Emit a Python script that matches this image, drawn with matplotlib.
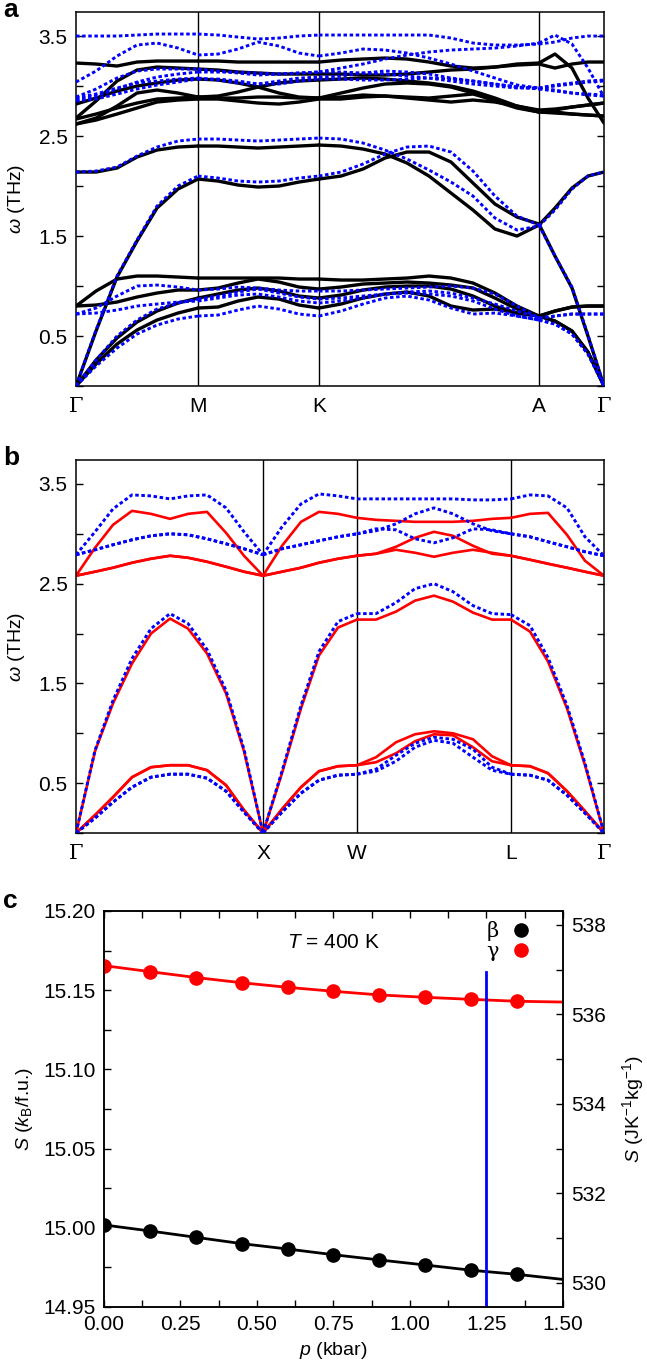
import numpy as np
import matplotlib.pyplot as plt
from matplotlib.ticker import MultipleLocator

plt.rcParams['font.family'] = ['Liberation Sans', 'DejaVu Sans']
plt.rcParams['mathtext.fontset'] = 'custom'
plt.rcParams['mathtext.rm'] = 'Liberation Sans'
plt.rcParams['mathtext.it'] = 'Liberation Sans:italic'
plt.rcParams['mathtext.bf'] = 'Liberation Sans:bold'
plt.rcParams['axes.linewidth'] = 1.1

# ---------------- panel a : path G-M-K-A-G (path length, arbitrary units)
sym_a = [0, 122, 243, 463, 528]
lab_a = ['Γ', 'M', 'K', 'A', 'Γ']
k_a = [0, 20, 41, 61, 81, 102, 122, 142, 162, 182, 203, 223, 243,
       265, 287, 309, 331, 353, 375, 397, 419, 441, 463, 479, 496, 512, 528]

# black bands (THz)
a_blk_ta1 = [0, 0.22, 0.42, 0.56, 0.66, 0.73, 0.78, 0.79, 0.85, 0.89, 0.87, 0.81, 0.78,
             0.82, 0.88, 0.92, 0.94, 0.90, 0.80, 0.76, 0.77, 0.73, 0.70, 0.65, 0.55, 0.34, 0]
a_blk_ta2 = [0, 0.26, 0.48, 0.64, 0.75, 0.83, 0.88, 0.92, 0.96, 0.98, 0.95, 0.90, 0.88,
             0.91, 0.96, 0.99, 1.00, 1.00, 0.97, 0.90, 0.80, 0.73, 0.70, 0.65, 0.55, 0.34, 0]
a_blk_o2 = [0.80, 0.81, 0.84, 0.89, 0.93, 0.96, 0.96, 0.98, 1.03, 1.07, 1.04, 0.99, 0.97,
            0.99, 1.02, 1.03, 1.04, 1.03, 1.01, 0.98, 0.88, 0.77, 0.70, 0.75, 0.79, 0.80, 0.80]
a_blk_o1 = [0.80, 0.95, 1.07, 1.10, 1.10, 1.09, 1.08, 1.08, 1.08, 1.08, 1.08, 1.07, 1.07,
            1.06, 1.06, 1.07, 1.08, 1.10, 1.08, 1.03, 0.93, 0.80, 0.70, 0.75, 0.79, 0.80, 0.80]
a_blk_la = [0, 0.55, 1.09, 1.45, 1.78, 1.97, 2.07, 2.05, 2.01, 1.99, 2.00, 2.04, 2.07,
            2.10, 2.17, 2.28, 2.34, 2.34, 2.24, 2.03, 1.82, 1.69, 1.62, 1.30, 0.98, 0.50, 0]
a_blk_up = [2.14, 2.14, 2.18, 2.29, 2.36, 2.39, 2.40, 2.40, 2.39, 2.38, 2.39, 2.40, 2.41,
            2.40, 2.37, 2.32, 2.23, 2.10, 1.93, 1.76, 1.57, 1.50, 1.61, 1.78, 1.98, 2.10, 2.14]
a_blk_h1 = [3.23, 3.22, 3.20, 3.24, 3.25, 3.25, 3.25, 3.25, 3.24, 3.24, 3.24, 3.24, 3.24,
            3.26, 3.27, 3.28, 3.27, 3.24, 3.20, 3.18, 3.19, 3.22, 3.23, 3.32, 3.18, 2.88, 2.63]
a_blk_h2 = [2.68, 2.85, 3.05, 3.16, 3.19, 3.18, 3.17, 3.16, 3.14, 3.13, 3.12, 3.12, 3.12,
            3.12, 3.11, 3.11, 3.12, 3.14, 3.16, 3.17, 3.19, 3.21, 3.22, 3.18, 3.22, 3.24, 3.24]
a_blk_h3 = [2.82, 2.88, 2.95, 3.00, 3.03, 3.06, 3.07, 3.06, 3.03, 2.99, 2.93, 2.89, 2.88,
            2.89, 2.91, 2.90, 2.88, 2.86, 2.84, 2.86, 2.84, 2.80, 2.76, 2.77, 2.79, 2.81, 2.83]
a_blk_h4 = [2.67, 2.72, 2.78, 2.83, 2.87, 2.88, 2.89, 2.90, 2.94, 2.99, 3.03, 3.05, 3.06,
            3.07, 3.08, 3.07, 3.05, 3.03, 3.00, 2.95, 2.88, 2.80, 2.75, 2.74, 2.72, 2.71, 2.70]
a_blk_h5 = [2.62, 2.66, 2.72, 2.78, 2.84, 2.86, 2.87, 2.87, 2.85, 2.83, 2.82, 2.84, 2.87,
            2.87, 2.89, 2.90, 2.89, 2.88, 2.90, 2.92, 2.86, 2.79, 2.74, 2.73, 2.72, 2.71, 2.70]
a_blk_h6 = [2.62, 2.68, 2.80, 2.93, 2.96, 2.93, 2.89, 2.88, 2.88, 2.89, 2.89, 2.88, 2.88,
            2.93, 2.98, 3.02, 3.03, 3.02, 2.99, 2.93, 2.85, 2.78, 2.74, 2.76, 2.79, 2.81, 2.83]

# blue dotted bands (THz)
a_blu_ta1 = [0, 0.20, 0.38, 0.52, 0.61, 0.67, 0.70, 0.71, 0.76, 0.80, 0.77, 0.72, 0.70,
             0.75, 0.82, 0.88, 0.90, 0.86, 0.78, 0.72, 0.73, 0.70, 0.66, 0.62, 0.52, 0.32, 0]
a_blu_ta2 = [0, 0.26, 0.50, 0.66, 0.77, 0.83, 0.87, 0.90, 0.94, 0.97, 0.93, 0.89, 0.87,
             0.88, 0.90, 0.92, 0.93, 0.92, 0.90, 0.85, 0.77, 0.70, 0.66, 0.62, 0.52, 0.32, 0]
a_blu_o2 = [0.72, 0.73, 0.76, 0.80, 0.82, 0.84, 0.85, 0.88, 0.91, 0.92, 0.89, 0.85, 0.83,
            0.85, 0.88, 0.92, 0.94, 0.95, 0.93, 0.88, 0.82, 0.75, 0.68, 0.70, 0.72, 0.72, 0.72]
a_blu_o1 = [0.72, 0.78, 0.90, 1.00, 1.01, 0.99, 0.96, 0.97, 0.99, 0.98, 0.96, 0.95, 0.95,
            0.95, 0.96, 0.97, 0.98, 0.99, 1.00, 0.98, 0.92, 0.80, 0.68, 0.70, 0.72, 0.72, 0.72]
a_blu_la = [0, 0.56, 1.10, 1.46, 1.80, 2.00, 2.10, 2.08, 2.05, 2.04, 2.05, 2.08, 2.10,
            2.14, 2.22, 2.32, 2.39, 2.40, 2.34, 2.15, 1.90, 1.70, 1.61, 1.30, 0.99, 0.51, 0]
a_blu_up = [2.14, 2.15, 2.19, 2.30, 2.39, 2.45, 2.47, 2.47, 2.46, 2.45, 2.46, 2.47, 2.48,
            2.47, 2.43, 2.36, 2.27, 2.16, 2.04, 1.90, 1.68, 1.56, 1.60, 1.76, 1.97, 2.10, 2.14]
a_blu_h1 = [3.50, 3.50, 3.50, 3.51, 3.52, 3.52, 3.52, 3.51, 3.49, 3.47, 3.48, 3.50, 3.51,
            3.51, 3.51, 3.51, 3.51, 3.51, 3.48, 3.43, 3.41, 3.41, 3.42, 3.44, 3.48, 3.50, 3.50]
a_blu_h2 = [3.04, 3.15, 3.30, 3.41, 3.43, 3.38, 3.31, 3.32, 3.37, 3.44, 3.40, 3.33, 3.30,
            3.33, 3.37, 3.36, 3.33, 3.28, 3.22, 3.15, 3.08, 3.01, 2.98, 3.01, 3.03, 3.05, 3.06]
a_blu_h3 = [2.89, 2.97, 3.08, 3.15, 3.17, 3.17, 3.17, 3.15, 3.13, 3.11, 3.12, 3.13, 3.14,
            3.18, 3.22, 3.27, 3.31, 3.34, 3.36, 3.37, 3.38, 3.40, 3.43, 3.51, 3.42, 3.18, 2.89]
a_blu_h4 = [2.88, 2.92, 2.98, 3.03, 3.05, 3.07, 3.08, 3.06, 3.03, 3.02, 3.05, 3.08, 3.09,
            3.10, 3.13, 3.15, 3.14, 3.12, 3.08, 3.05, 3.02, 2.99, 2.97, 2.95, 2.93, 2.92, 2.91]
a_blu_h5 = [2.86, 2.90, 2.97, 3.04, 3.09, 3.12, 3.14, 3.14, 3.14, 3.13, 3.12, 3.13, 3.14,
            3.14, 3.13, 3.12, 3.10, 3.08, 3.05, 3.02, 3.00, 2.98, 2.98, 3.00, 3.02, 3.04, 3.05]
a_blu_h6 = [2.85, 2.87, 2.92, 2.97, 3.01, 3.04, 3.07, 3.07, 3.05, 3.02, 3.02, 3.05, 3.07,
            3.07, 3.06, 3.06, 3.07, 3.08, 3.07, 3.05, 3.02, 2.99, 2.98, 2.96, 2.93, 2.91, 2.90]

a_black = [a_blk_ta1, a_blk_ta2, a_blk_o2, a_blk_o1, a_blk_la, a_blk_up,
           a_blk_h1, a_blk_h2, a_blk_h3, a_blk_h4, a_blk_h5, a_blk_h6]
a_blue = [a_blu_ta1, a_blu_ta2, a_blu_o2, a_blu_o1, a_blu_la, a_blu_up,
          a_blu_h1, a_blu_h2, a_blu_h3, a_blu_h4, a_blu_h5, a_blu_h6]

# ---------------- panel b : path G-X-W-L-G
sym_b = [0, 187, 281, 435, 528]
lab_b = ['Γ', 'X', 'W', 'L', 'Γ']
k_b = [0, 19, 37, 56, 75, 94, 112, 131, 150, 168, 187,
       206, 225, 243, 262, 281,
       300, 320, 339, 358, 377, 397, 416, 435,
       454, 472, 491, 509, 528]

b_red_ta1 = [0, 0.18, 0.36, 0.56, 0.66, 0.68, 0.68, 0.63, 0.48, 0.23, 0,
             0.24, 0.46, 0.62, 0.67, 0.68,
             0.71, 0.80, 0.92, 0.99, 0.98, 0.86, 0.72, 0.68,
             0.67, 0.60, 0.42, 0.22, 0]
b_red_ta2 = [0, 0.18, 0.36, 0.56, 0.66, 0.68, 0.68, 0.63, 0.48, 0.23, 0,
             0.24, 0.46, 0.62, 0.67, 0.68,
             0.76, 0.91, 0.99, 1.02, 1.00, 0.94, 0.77, 0.68,
             0.67, 0.60, 0.42, 0.22, 0]
b_red_la = [0, 0.82, 1.30, 1.70, 2.00, 2.15, 2.05, 1.80, 1.40, 0.82, 0,
            0.60, 1.25, 1.78, 2.06, 2.14,
            2.14, 2.22, 2.33, 2.38, 2.32, 2.21, 2.14, 2.14,
            2.02, 1.72, 1.25, 0.68, 0]
b_red_to1 = [2.58, 2.62, 2.66, 2.71, 2.75, 2.78, 2.76, 2.72, 2.67, 2.62, 2.58,
             2.62, 2.66, 2.71, 2.75, 2.78,
             2.80, 2.84, 2.81, 2.77, 2.81, 2.84, 2.81, 2.78,
             2.74, 2.70, 2.66, 2.62, 2.58]
b_red_to2 = [2.58, 2.62, 2.66, 2.71, 2.75, 2.78, 2.76, 2.72, 2.67, 2.62, 2.58,
             2.62, 2.66, 2.71, 2.75, 2.78,
             2.80, 2.87, 2.96, 3.02, 2.98, 2.88, 2.80, 2.78,
             2.74, 2.70, 2.66, 2.62, 2.58]
b_red_lo = [2.58, 2.86, 3.09, 3.23, 3.20, 3.15, 3.20, 3.22, 3.01, 2.78, 2.58,
            2.88, 3.12, 3.22, 3.20, 3.16,
            3.14, 3.13, 3.12, 3.12, 3.12, 3.13, 3.15, 3.16,
            3.20, 3.21, 2.99, 2.73, 2.58]

b_blu_ta1 = [0, 0.15, 0.31, 0.46, 0.56, 0.59, 0.59, 0.55, 0.42, 0.21, 0,
             0.21, 0.40, 0.53, 0.58, 0.59,
             0.62, 0.72, 0.86, 0.93, 0.90, 0.76, 0.63, 0.59,
             0.58, 0.53, 0.38, 0.20, 0]
b_blu_ta2 = [0, 0.15, 0.31, 0.46, 0.56, 0.59, 0.59, 0.55, 0.42, 0.21, 0,
             0.21, 0.40, 0.53, 0.58, 0.59,
             0.64, 0.78, 0.90, 0.96, 0.94, 0.84, 0.66, 0.59,
             0.58, 0.53, 0.38, 0.20, 0]
b_blu_la = [0, 0.83, 1.33, 1.75, 2.05, 2.20, 2.10, 1.84, 1.43, 0.84, 0,
            0.62, 1.28, 1.82, 2.12, 2.20,
            2.20, 2.31, 2.45, 2.50, 2.42, 2.28, 2.20, 2.19,
            2.08, 1.76, 1.28, 0.70, 0]
b_blu_to1 = [2.79, 2.84, 2.89, 2.94, 2.98, 3.00, 2.99, 2.95, 2.90, 2.85, 2.79,
             2.85, 2.89, 2.93, 2.97, 3.00,
             3.05, 3.04, 2.95, 2.91, 2.96, 3.05, 3.04, 3.00,
             2.97, 2.92, 2.87, 2.82, 2.78]
b_blu_to2 = [2.79, 2.84, 2.89, 2.94, 2.98, 3.00, 2.99, 2.95, 2.90, 2.85, 2.79,
             2.85, 2.89, 2.93, 2.97, 3.00,
             3.03, 3.10, 3.20, 3.26, 3.20, 3.10, 3.03, 3.00,
             2.97, 2.92, 2.87, 2.82, 2.78]
b_blu_lo = [2.79, 3.02, 3.25, 3.39, 3.38, 3.35, 3.38, 3.39, 3.26, 3.02, 2.79,
            3.07, 3.30, 3.40, 3.38, 3.35,
            3.35, 3.35, 3.35, 3.35, 3.35, 3.34, 3.34, 3.35,
            3.39, 3.38, 3.26, 2.97, 2.78]

b_red = [b_red_ta1, b_red_ta2, b_red_la, b_red_to1, b_red_to2, b_red_lo]
b_blue = [b_blu_ta1, b_blu_ta2, b_blu_la, b_blu_to1, b_blu_to2, b_blu_lo]

# ---------------- panel c : entropy vs pressure, T = 400 K
p = [0.0, 0.15, 0.30, 0.45, 0.60, 0.75, 0.90, 1.05, 1.20, 1.35]
s_gamma = [15.1655, 15.1617, 15.1580, 15.1547, 15.1518, 15.1493, 15.1470, 15.1455, 15.1442, 15.1430]
s_beta = [15.0018, 14.9980, 14.9940, 14.9900, 14.9866, 14.9830, 14.9797, 14.9765, 14.9732, 14.9706]
p_end = 1.5
s_gamma_end = 15.1425
s_beta_end = 14.9674
p_trans = 1.25
s_trans_top = 15.1615
s_right_lim = (529.46, 538.31)

fig = plt.figure(figsize=(6.47, 13.67), dpi=100)

dotted = dict(color='#0000ff', lw=2.1, linestyle=(0, (1.2, 0.9)), dash_capstyle='butt')


def plot_bands(ax, k, sym, bands, **style):
    # draw segment by segment so the dot pattern restarts at each symmetry point
    idx = [k.index(s) for s in sym]
    for band in bands:
        for i0, i1 in zip(idx[:-1], idx[1:]):
            ax.plot(k[i0:i1 + 1], band[i0:i1 + 1], solid_joinstyle='round',
                    solid_capstyle='round', **style)


def band_axes(ax, sym, labels):
    for x in sym[1:-1]:
        ax.axvline(x, color='black', lw=1.0, zorder=1)
    ax.set_xlim(sym[0], sym[-1])
    ax.set_ylim(0, 3.74)
    ax.set_xticks(sym)
    ax.set_xticklabels(labels)
    for t in ax.get_xticklabels():
        if t.get_text() == 'Γ':
            t.set_fontfamily('DejaVu Serif')
    ax.set_yticks([0.5, 1.5, 2.5, 3.5])
    ax.yaxis.set_minor_locator(MultipleLocator(0.5))
    ax.tick_params(axis='y', which='both', direction='in', right=True, length=5, width=1,
                   labelsize=15, pad=6)
    ax.tick_params(axis='x', length=0, labelsize=15, pad=8)
    ax.set_ylabel(r'$\omega$ (THz)', fontsize=14, labelpad=8)


ax_a = fig.add_axes([0.1175, 0.7176, 0.816, 0.2736])
plot_bands(ax_a, k_a, sym_a, a_black, color='black', lw=2.4, zorder=2)
plot_bands(ax_a, k_a, sym_a, a_blue, zorder=3, **dotted)
band_axes(ax_a, sym_a, lab_a)

ax_b = fig.add_axes([0.1175, 0.3906, 0.816, 0.2729])
plot_bands(ax_b, k_b, sym_b, b_red, color='#ff0000', lw=1.9, zorder=2)
plot_bands(ax_b, k_b, sym_b, b_blue, zorder=3, **dotted)
band_axes(ax_b, sym_b, lab_b)

ax_c = fig.add_axes([0.1607, 0.0439, 0.7094, 0.2897])
ax_c.plot(p + [p_end], s_gamma + [s_gamma_end], color='#ff0000', lw=2.0, zorder=2)
ax_c.plot(p + [p_end], s_beta + [s_beta_end], color='black', lw=2.0, zorder=2)
ax_c.plot(p, s_beta, 'o', color='black', ms=9.5, label='β', zorder=3)
ax_c.plot(p, s_gamma, 'o', color='#ff0000', ms=9.5, label='γ', zorder=3)
ax_c.plot([p_trans, p_trans], [14.95, s_trans_top], color='#0000ff', lw=2.0, zorder=2)
ax_c.set_xlim(0, 1.5)
ax_c.set_ylim(14.95, 15.20)
ax_c.xaxis.set_major_locator(MultipleLocator(0.25))
ax_c.xaxis.set_minor_locator(MultipleLocator(0.125))
ax_c.yaxis.set_major_locator(MultipleLocator(0.05))
ax_c.yaxis.set_minor_locator(MultipleLocator(0.025))
ax_c.xaxis.set_major_formatter(lambda v, pos: f'{v:.2f}')
ax_c.yaxis.set_major_formatter(lambda v, pos: f'{v:.2f}')
ax_c.tick_params(which='both', direction='in', top=True, length=5, width=1, labelsize=15, pad=6)
ax_c.set_xlabel(r'$p$ (kbar)', fontsize=14, labelpad=4)
ax_c.set_ylabel(r'$S$ ($k_\mathrm{B}$/f.u.)', fontsize=14, labelpad=6)
ax_c.text(0.5, 0.92, r'$T$ = 400 K', transform=ax_c.transAxes, ha='center', va='center',
          fontsize=15)
ax_c.legend(loc='upper right', bbox_to_anchor=(0.955, 1.0), markerfirst=False, frameon=False,
            numpoints=1, handlelength=1.0, handletextpad=0.6, labelspacing=0.05,
            borderaxespad=0.1, prop={'family': 'DejaVu Serif', 'size': 15})

ax_r = ax_c.twinx()
ax_r.set_ylim(*s_right_lim)
ax_r.yaxis.set_major_locator(MultipleLocator(2))
ax_r.yaxis.set_minor_locator(MultipleLocator(1))
ax_r.tick_params(which='both', direction='in', length=5, width=1, labelsize=15, pad=6)
ax_r.set_ylabel(r'$S$ (JK$^{-1}$kg$^{-1}$)', fontsize=14, labelpad=10)

fig.text(0.005, 1 - 17 / 1367, 'a', fontsize=19, fontweight='bold', va='baseline')
fig.text(0.005, 1 - 465 / 1367, 'b', fontsize=19, fontweight='bold', va='baseline')
fig.text(0.005, 1 - 908 / 1367, 'c', fontsize=19, fontweight='bold', va='baseline')

fig.savefig('out.png', dpi=100)
